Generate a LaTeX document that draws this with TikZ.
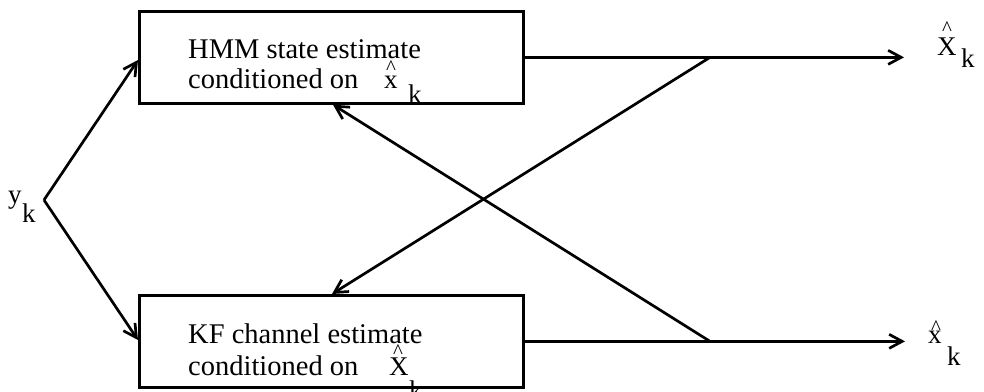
\documentclass[tikz,border=0pt]{standalone}
\usepackage{fontspec}
\setmainfont{Liberation Serif}
\usetikzlibrary{arrows.meta,calc}
\begin{document}
\begin{tikzpicture}[x=1pt,y=-1pt,
  box/.style={draw,line width=2.7pt,inner sep=0pt,minimum width=384pt,minimum height=92pt,anchor=north west},
  conn/.style={line width=2.7pt,-{Straight Barb[length=13pt,width=14pt,line width=2.7pt]}},
  txt/.style={inner sep=0pt,anchor=base west,font=\fontsize{28.5}{28}\selectfont},
  sym/.style={inner sep=0pt,anchor=base west,font=\fontsize{27}{27}\selectfont},
  hatmark/.style={inner sep=0pt,anchor=base,font=\fontsize{21}{21}\selectfont}]
\useasboundingbox (0,0) rectangle (984,391);
% boxes
\node[box] (hmm) at (138,10) {};
\node[box] (kf) at (138,294) {};
% box texts
\node[txt] (t1) at (188,58) {HMM state estimate};
\node[txt] (t2) at (188,88) {conditioned on};
\node[sym] (t2x) at (384,88) {x};
\node[hatmark] (t2h) at (391,74) {\char"5E};
\node[sym] (t2k) at (408,103) {k};
\node[txt] (t3) at (188,343) {KF channel estimate};
\node[txt] (t4) at (188,375) {conditioned on};
\node[sym] (t4x) at (389,375) {X};
\node[hatmark] (t4h) at (398,358) {\char"5E};
\node[sym] (t4k) at (409,399) {k};
% outputs
\node[sym] (oX) at (937,55) {X};
\node[hatmark] (oXh) at (947,35) {\char"5E};
\node[sym] (oXk) at (961,67) {k};
\node[sym] (ox) at (928,343) {x};
\node[hatmark] (oxh) at (936,334) {\char"5E};
\node[sym] (oxk) at (947,365) {k};
% input
\node[sym] (iy) at (8,203) {y};
\node[sym] (ik) at (22,222) {k};
% coordinates
\coordinate (split) at (44,200);
\coordinate (j1) at (710,0 |- hmm.east);
\coordinate (j2) at (710,0 |- kf.east);
\coordinate (e1) at (904,0 |- hmm.east);
\coordinate (e2) at (905,0 |- kf.east);
% connectors
\draw[conn] (split) -- ($(hmm.north west)+(0,50)$);
\draw[conn] (split) -- ($(kf.north west)+(0,46)$);
\draw[conn] (hmm.east) -- (e1);
\draw[conn] (kf.east) -- (e2);
\draw[conn] (j1) -- ($(kf.north west)+(194,0)$);
\draw[conn] (j2) -- ($(hmm.south west)+(195,0)$);
\end{tikzpicture}
\end{document}
